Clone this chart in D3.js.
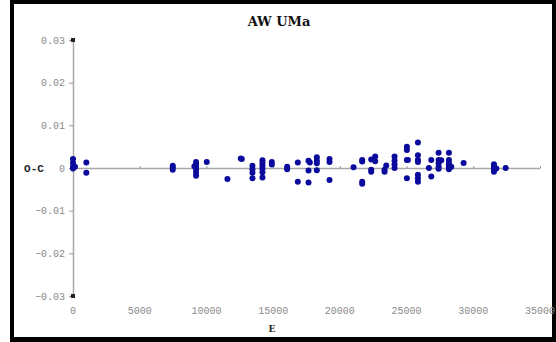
<!DOCTYPE html>
<html>
<head>
<meta charset="utf-8">
<script src="https://cdn.jsdelivr.net/npm/d3@7"></script>
<style>
  html, body { margin: 0; padding: 0; background: #fff; }
  svg { display: block; }
</style>
</head>
<body>
<svg id="chart" width="556" height="342"></svg>
<script>
// AW UMa O-C diagram: epoch E against O-C residual (days)
const chartTitle = "AW UMa";
const xLabel = "E";
const yLabel = "O-C";
const xTicks = [0, 5000, 10000, 15000, 20000, 25000, 30000, 35000];
const yTicks = [0.03, 0.02, 0.01, 0, -0.01, -0.02, -0.03];

const epochs = [
  0, 0, 0, 0, 150,
  1000, 1000,
  7475, 7475, 7475,
  9225, 9225, 9225, 9225, 9225, 9225, 9100,
  10025,
  11575,
  12575, 12650,
  13450, 13450, 13450, 13450,
  14200, 14200, 14200, 14200, 14200, 14200,
  14900, 14900,
  16050, 16050,
  16850, 16850,
  17650, 17650, 17650, 17750,
  18275, 18275, 18275, 18275,
  19225, 19225, 19225,
  21025,
  21675, 21675, 21675, 21675,
  22350, 22350, 22350,
  22650, 22650,
  23350, 23350,
  23475,
  24100, 24100, 24100, 24100,
  25025, 25025, 25025, 25025, 25100,
  25850, 25850, 25850, 25850, 25850, 25850, 25850,
  26675,
  26850, 26850,
  27400, 27400, 27400, 27400, 27400,
  27600,
  28175, 28175, 28175, 28175, 28175, 28175,
  28350,
  29275,
  31550, 31550, 31550, 31550,
  31725,
  32425
];

const residuals = [
  0.0021, 0.0012, 0.0003, -0.0001, 0.0003,
  0.0013, -0.0011,
  0.0005, 0.0001, -0.0004,
  0.0014, 0.0009, 0.0003, -0.0004, -0.0012, -0.0018, 0.0004,
  0.0014,
  -0.0026,
  0.0022, 0.0021,
  0.0005, -0.0003, -0.0011, -0.0024,
  0.0018, 0.0012, 0.0005, -0.0002, -0.0010, -0.0022,
  0.0014, 0.0008,
  0.0003, -0.0003,
  0.0013, -0.0032,
  0.0017, -0.0006, -0.0034, 0.0013,
  0.0025, 0.0017, 0.0011, -0.0005,
  0.0021, 0.0014, -0.0028,
  0.0002,
  0.0019, 0.0015, -0.0032, -0.0037,
  0.0020, -0.0004, -0.0009,
  0.0027, 0.0016,
  -0.0004, -0.0009,
  0.0006,
  0.0027, 0.0017, 0.0008, 0.0000,
  0.0050, 0.0042, 0.0019, -0.0024, 0.0019,
  0.0060, 0.0030, 0.0019, 0.0014, -0.0016, -0.0024, -0.0032,
  0.0000,
  0.0019, -0.0020,
  0.0036, 0.0019, 0.0011, 0.0003, -0.0002,
  0.0018,
  0.0036, 0.0019, 0.0011, 0.0006, 0.0001, -0.0003,
  0.0003,
  0.0012,
  0.0009, 0.0003, -0.0003, -0.0009,
  -0.0001,
  0.0000
];

const svg = d3.select("#chart");
const W = 556, H = 342;

// page frame
svg.append("rect").attr("x", 10).attr("y", 0).attr("width", W - 10).attr("height", H).attr("fill", "#000");
svg.append("rect").attr("x", 14).attr("y", 4).attr("width", W - 14 - 4).attr("height", H - 4 - 5).attr("fill", "#fff");

const x = d3.scaleLinear().domain([0, 35000]).range([73, 540]);
const y = d3.scaleLinear().domain([-0.03, 0.03]).range([296, 40]);

const axisColor = "#a8a8a8";
const tickFont = "'Liberation Mono', 'DejaVu Sans Mono', monospace";

// horizontal axis along O-C = 0
const xAxis = d3.axisBottom(x).tickValues(xTicks).tickSize(0).tickFormat("");
const gx = svg.append("g").attr("transform", `translate(0,${y(0)})`).call(xAxis);
gx.select(".domain").attr("stroke", axisColor).attr("stroke-width", 1.5);
// small marks above the line at each tick
gx.selectAll(".tick").append("line")
  .attr("y1", 0).attr("y2", -2).attr("stroke", "#999").attr("stroke-width", 1);

// E tick labels along the bottom
svg.append("g").selectAll("text").data(xTicks).join("text")
  .attr("x", d => x(d)).attr("y", 314)
  .attr("text-anchor", "middle")
  .attr("font-family", tickFont).attr("font-size", 10)
  .attr("fill", "#8a8a8a")
  .text(d => d);

// vertical axis at E = 0
const yAxis = d3.axisLeft(y).tickValues(yTicks).tickSize(4).tickPadding(4)
  .tickFormat(d => d === 0 ? "0" : d3.format(".2f")(d));
const gy = svg.append("g").attr("transform", `translate(${x(0)},0)`).call(yAxis);
gy.select(".domain").attr("stroke", axisColor).attr("stroke-width", 1.5);
gy.selectAll(".tick line").attr("stroke", "#999");
gy.selectAll(".tick text")
  .attr("font-family", tickFont).attr("font-size", 10)
  .attr("fill", "#8a8a8a");

// end markers on the vertical axis
svg.append("g").selectAll("rect").data([0.03, -0.03]).join("rect")
  .attr("x", x(0) - 2).attr("y", d => y(d) - 2)
  .attr("width", 4).attr("height", 4).attr("fill", "#222");

// residual points
svg.append("g").selectAll("circle").data(epochs.map((e, i) => [e, residuals[i]])).join("circle")
  .attr("cx", d => x(d[0])).attr("cy", d => y(d[1]))
  .attr("r", 3).attr("fill", "#0a0a9c");

// title and axis names
svg.append("text").attr("x", 279).attr("y", 26).attr("text-anchor", "middle")
  .attr("font-family", "'DejaVu Serif', serif").attr("font-weight", "bold")
  .attr("font-size", 13).attr("fill", "#111").text(chartTitle);

svg.append("text").attr("x", 272).attr("y", 332).attr("text-anchor", "middle")
  .attr("font-family", "'DejaVu Serif', serif").attr("font-weight", "bold")
  .attr("font-size", 9).attr("fill", "#222").text(xLabel);

svg.append("text").attr("x", 34).attr("y", y(0) + 4).attr("text-anchor", "middle")
  .attr("font-family", tickFont).attr("font-weight", "bold")
  .attr("font-size", 11).attr("fill", "#222").text(yLabel);
</script>
</body>
</html>
